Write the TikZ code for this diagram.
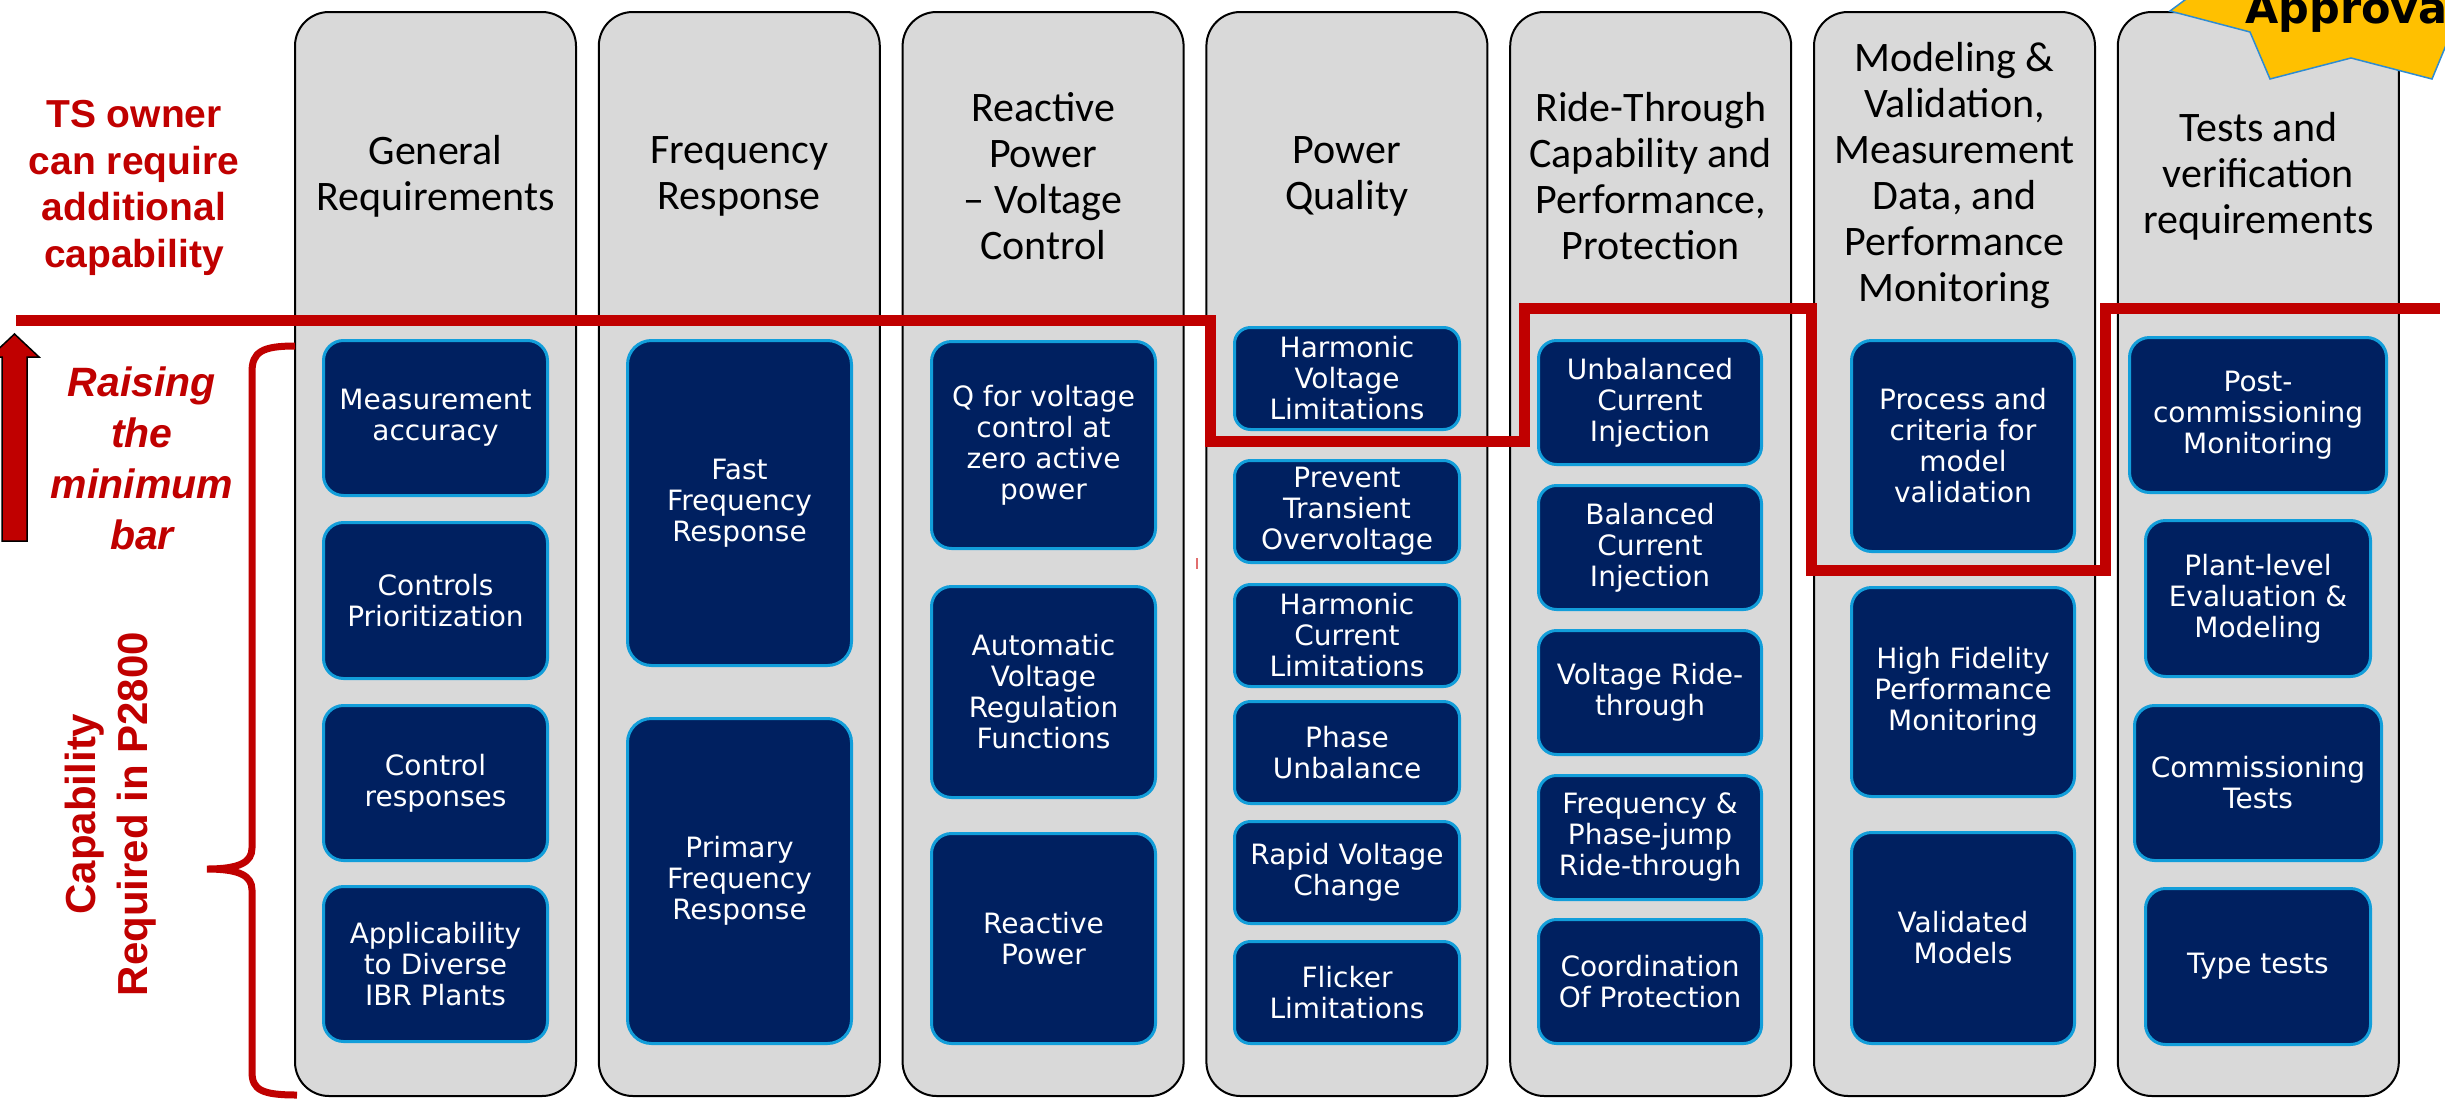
\documentclass[tikz,border=0pt]{standalone}
\usepackage{fontspec}
\setmainfont{Liberation Sans}
\newfontfamily\hdfont{Carlito}
\newfontfamily\bxfont{DejaVu Sans}
\definecolor{barred}{RGB}{192,0,0}
\definecolor{colgray}{RGB}{217,217,217}
\definecolor{navy}{RGB}{0,32,96}
\definecolor{edgeblue}{RGB}{18,158,218}
\definecolor{gold}{RGB}{255,192,0}
\definecolor{starblue}{RGB}{46,140,210}
\definecolor{tickred}{RGB}{225,110,110}
\begin{document}
\begin{tikzpicture}[x=1pt,y=-1pt,
 colbox/.style={draw=black, line width=2pt, fill=colgray, rounded corners=34pt, minimum width=281pt, minimum height=1084pt, inner sep=0pt},
 hdtext/.style={font=\hdfont\fontsize{42}{46}\selectfont, align=center, text=black, inner sep=0pt},
 ibox/.style={draw=edgeblue, line width=3pt, fill=navy, rounded corners=20pt, text=white, align=center, font=\bxfont\fontsize{28}{31}\selectfont, inner sep=0pt},
 redtext/.style={text=barred, align=center, inner sep=0pt},
 redbar/.style={draw=barred, line width=11pt, miter limit=10},
]
\useasboundingbox (0,0) rectangle (2445,1103);
\clip (0,0) rectangle (2445,1103);

% columns
\node[colbox] (c1) at (435.5,554) {};
\node[colbox] (c2) at (739.3,554) {};
\node[colbox] (c3) at (1043.1,554) {};
\node[colbox] (c4) at (1346.9,554) {};
\node[colbox] (c5) at (1650.7,554) {};
\node[colbox] (c6) at (1954.5,554) {};
\node[colbox] (c7) at (2258.3,554) {};

% headers
\node[hdtext] (h1) at (435.5,176) {General\\Requirements};
\node[hdtext] (h2) at (739.3,176) {Frequency\\Response};
\node[hdtext] (h3) at (1043.1,176) {Reactive\\Power\\– Voltage\\Control};
\node[hdtext] (h4) at (1346.9,176) {Power\\Quality};
\node[hdtext] (h5) at (1650.7,176) {Ride-Through\\Capability and\\Performance,\\Protection};
\node[hdtext] (h6) at (1954.5,176) {Modeling \&\\Validation,\\Measurement\\Data, and\\Performance\\Monitoring};
\node[hdtext] (h7) at (2258.3,176) {Tests and\\verification\\requirements};

% column 1
\node[ibox, minimum width=224pt, minimum height=155pt] (b11) at (435.5,418) {Measurement\\accuracy};
\node[ibox, minimum width=224pt, minimum height=156pt] (b12) at (435.5,600.5) {Controls\\Prioritization};
\node[ibox, minimum width=224pt, minimum height=155pt] (b13) at (435.5,783) {Control\\responses};
\node[ibox, minimum width=224pt, minimum height=155pt] (b14) at (435.5,964) {Applicability\\to Diverse\\IBR Plants};
% column 2
\node[ibox, minimum width=224pt, minimum height=325pt, rounded corners=24pt] (b21) at (739.5,503) {Fast\\Frequency\\Response};
\node[ibox, minimum width=224pt, minimum height=325pt, rounded corners=24pt] (b22) at (739.5,881) {Primary\\Frequency\\Response};
% column 3
\node[ibox, minimum width=224pt, minimum height=207pt] (b31) at (1043.5,445) {Q for voltage\\control at\\zero active\\power};
\node[ibox, minimum width=224pt, minimum height=211pt] (b32) at (1043.5,692) {Automatic\\Voltage\\Regulation\\Functions};
\node[ibox, minimum width=224pt, minimum height=210pt] (b33) at (1043.5,938.5) {Reactive\\Power};
% column 4
\node[ibox, minimum width=225pt, minimum height=102pt, rounded corners=16pt] (b41) at (1347,378.5) {Harmonic\\Voltage\\Limitations};
\node[ibox, minimum width=225pt, minimum height=102pt, rounded corners=16pt] (b42) at (1347,511.5) {Prevent\\Transient\\Overvoltage};
\node[ibox, minimum width=225pt, minimum height=102pt, rounded corners=16pt] (b43) at (1347,635.5) {Harmonic\\Current\\Limitations};
\node[ibox, minimum width=225pt, minimum height=102pt, rounded corners=16pt] (b44) at (1347,752.5) {Phase\\Unbalance};
\node[ibox, minimum width=225pt, minimum height=102pt, rounded corners=16pt] (b45) at (1347,872.5) {Rapid Voltage\\Change};
\node[ibox, minimum width=225pt, minimum height=102pt, rounded corners=16pt] (b46) at (1347,992.5) {Flicker\\Limitations};
% column 5
\node[ibox, minimum width=223pt, minimum height=124pt, rounded corners=18pt] (b51) at (1650,402.5) {Unbalanced\\Current\\Injection};
\node[ibox, minimum width=223pt, minimum height=124pt, rounded corners=18pt] (b52) at (1650,547.5) {Balanced\\Current\\Injection};
\node[ibox, minimum width=223pt, minimum height=124pt, rounded corners=18pt] (b53) at (1650,692.5) {Voltage Ride-\\through};
\node[ibox, minimum width=223pt, minimum height=124pt, rounded corners=18pt] (b54) at (1650,837.5) {Frequency \&\\Phase-jump\\Ride-through};
\node[ibox, minimum width=223pt, minimum height=124pt, rounded corners=18pt] (b55) at (1650,981.5) {Coordination\\Of Protection};
% column 6
\node[ibox, minimum width=223pt, minimum height=211pt] (b61) at (1963,446) {Process and\\criteria for\\model\\validation};
\node[ibox, minimum width=223pt, minimum height=209pt] (b62) at (1963,692) {High Fidelity\\Performance\\Monitoring};
\node[ibox, minimum width=223pt, minimum height=211pt] (b63) at (1963,938) {Validated\\Models};
% column 7
\node[ibox, minimum width=257pt, minimum height=155pt] (b71) at (2258,415) {Post-\\commissioning\\Monitoring};
\node[ibox, minimum width=225pt, minimum height=156pt] (b72) at (2258,598.5) {Plant-level\\Evaluation \&\\Modeling};
\node[ibox, minimum width=247pt, minimum height=155pt] (b73) at (2258,783) {Commissioning\\Tests};
\node[ibox, minimum width=225pt, minimum height=156pt] (b74) at (2258,966.5) {Type tests};

% red bar
\draw[redbar] (16,320) -- (1210,320) -- (1210,441) -- (1524,441) -- (1524,308) -- (1811,308) -- (1811,570) -- (2105,570) -- (2105,308) -- (2440,308);
\draw[tickred, line width=2pt] (1197,558) -- (1197,569);

% arrow
\draw[fill=barred, draw=black, line width=1.5pt] (2,541) -- (2,357) -- (-10,357) -- (14.5,334) -- (39,357) -- (27,357) -- (27,541) -- cycle;

% brace
\draw[barred, line width=7pt] (295,346) .. controls (262,346) and (252,352) .. (252,372) -- (252,848) .. controls (252,862) and (240,869) .. (207,869) .. controls (240,869) and (252,876) .. (252,890) -- (252,1072) .. controls (252,1090) and (262,1095) .. (297,1095);

% left texts
\node[redtext, font=\bfseries\fontsize{39}{46.5}\selectfont] (ts) at (134,188) {TS owner\\can require\\additional\\capability};
\node[redtext, font=\bfseries\itshape\fontsize{41}{51}\selectfont] (rb) at (142,458) {Raising\\the\\minimum\\bar};
\node[redtext, font=\bfseries\fontsize{42}{52}\selectfont, rotate=90] (cap) at (111,814) {Capability\\Required in P2800};

% star
\draw[fill=gold, draw=starblue, line width=1.5pt] (2205,-15) -- (2170,11) -- (2250,32) -- (2270,79) -- (2351,58) -- (2432,79) -- (2454,26) -- (2470,-20) -- (2205,-20) -- cycle;
\node[anchor=base west, inner sep=0pt, font=\bxfont\bfseries\fontsize{43}{47}\selectfont] (appr) at (2245,23) {Approval};
\end{tikzpicture}
\end{document}
